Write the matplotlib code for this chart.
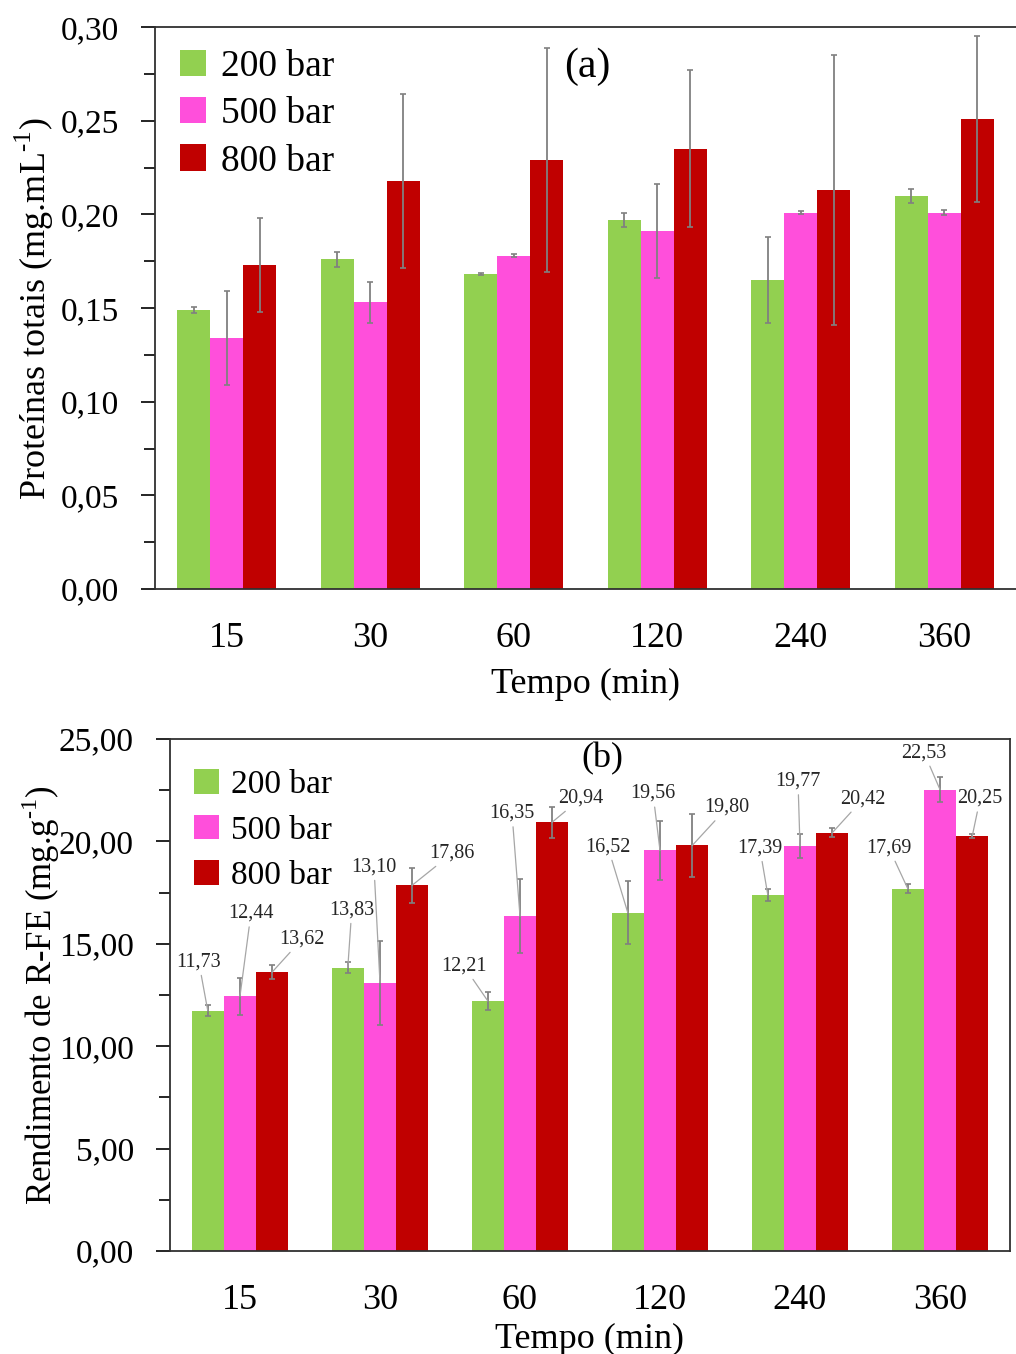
import numpy as np
import matplotlib
matplotlib.use('Agg')
import matplotlib.pyplot as plt

plt.rcParams['font.family'] = ['Liberation Serif', 'DejaVu Serif']
plt.rcParams['mathtext.fontset'] = 'custom'
plt.rcParams['mathtext.rm'] = 'Liberation Serif'

# categories
tempos = ['15', '30', '60', '120', '240', '360']
series = ['200 bar', '500 bar', '800 bar']
cores = ['#92D050', '#FF4FDB', '#C00000']

# (a) proteinas totais (mg/mL)
prot_200 = [0.149, 0.176, 0.168, 0.197, 0.165, 0.210]
prot_500 = [0.134, 0.153, 0.178, 0.191, 0.201, 0.201]
prot_800 = [0.173, 0.218, 0.229, 0.235, 0.213, 0.251]
prot_err_200 = [0.0015, 0.004, 0.0005, 0.004, 0.023, 0.0037]
prot_err_500 = [0.025, 0.011, 0.001, 0.025, 0.001, 0.0015]
prot_err_800 = [0.025, 0.0465, 0.060, 0.042, 0.072, 0.0443]

# (b) rendimento de R-FE (mg/g)
rend_200 = [11.73, 13.83, 12.21, 16.52, 17.39, 17.69]
rend_500 = [12.44, 13.10, 16.35, 19.56, 19.77, 22.53]
rend_800 = [13.62, 17.86, 20.94, 19.80, 20.42, 20.25]
rend_err_200 = [0.28, 0.27, 0.42, 1.55, 0.30, 0.22]
rend_err_500 = [0.90, 2.05, 1.80, 1.45, 0.60, 0.60]
rend_err_800 = [0.34, 0.85, 0.75, 1.55, 0.22, 0.10]

# label offsets (pixels) for the value labels in (b)
lbl_off = [
    [(-9, 49), (4, 58), (-24, 35), (-20, 66), (-8, 47), (-19, 41)],
    [(11, 83), (-6, 116), (-8, 103), (-7, 57), (-2, 65), (-16, 37)],
    [(30, 33), (40, 32), (29, 24), (35, 38), (31, 34), (8, 38)],
]

fig = plt.figure(figsize=(10.16, 13.54), dpi=100)
ax1 = fig.add_axes([0.1526, 0.565, 0.8474, 0.415])
ax2 = fig.add_axes([0.1673, 0.0761, 0.8268, 0.3781])

x = np.arange(len(tempos))
w = 0.23
offs = [-w, 0, w]


def fmt(v, p=None):
    return ('%.2f' % v).replace('.', ',')


def draw_bars(ax, vals, errs):
    for i in range(3):
        ax.bar(x + offs[i], vals[i], w, color=cores[i], label=series[i],
               yerr=errs[i], error_kw=dict(ecolor='#808080', elinewidth=1.3,
                                           capsize=2.2, capthick=1.2))
    ax.set_xlim(-0.5, len(tempos) - 0.5)
    ax.set_xticks(x)
    ax.set_xticklabels(tempos)
    ax.tick_params(axis='x', length=0, pad=24, labelsize=26)
    ax.tick_params(axis='y', which='major', length=10, width=1.2, pad=16,
                   labelsize=24, direction='out')
    ax.tick_params(axis='y', which='minor', length=8, width=1.2,
                   direction='out')
    ax.yaxis.set_major_formatter(plt.FuncFormatter(fmt))
    for s in ax.spines.values():
        s.set_color('#303030')
        s.set_linewidth(1.3)


# panel (a)
draw_bars(ax1, [prot_200, prot_500, prot_800],
          [prot_err_200, prot_err_500, prot_err_800])
ax1.set_ylim(0, 0.30)
ax1.set_yticks(np.arange(0, 0.301, 0.05))
ax1.set_yticks(np.arange(0.025, 0.3, 0.05), minor=True)
ax1.spines['right'].set_visible(False)
ax1.set_ylabel('Proteínas totais (mg.mL$^{\\mathregular{\u20101}}$)', fontsize=26, labelpad=3)
ax1.set_xlabel('Tempo (min)', fontsize=26, labelpad=9)
ax1.text(0.502, 0.929, '(a)', transform=ax1.transAxes, ha='center',
         va='center', fontsize=30)
ax1.legend(loc='upper left', bbox_to_anchor=(0.003, 1.0), frameon=False,
           fontsize=27, handlelength=0.7, handleheight=0.7,
           handletextpad=0.4, labelspacing=0.34, borderaxespad=0.2)

# panel (b)
vals_b = [rend_200, rend_500, rend_800]
draw_bars(ax2, vals_b, [rend_err_200, rend_err_500, rend_err_800])
ax2.set_ylim(0, 25)
ax2.set_yticks(np.arange(0, 25.1, 5))
ax2.set_yticks(np.arange(2.5, 25, 5), minor=True)
ax2.set_ylabel('Rendimento de R-FE (mg.g$^{\\mathregular{\u20101}}$)', fontsize=25, labelpad=-2)
ax2.set_xlabel('Tempo (min)', fontsize=26, labelpad=4)
ax2.text(0.515, 0.961, '(b)', transform=ax2.transAxes, ha='center',
         va='center', fontsize=26)
ax2.legend(loc='upper left', bbox_to_anchor=(0.005, 0.98), frameon=False,
           fontsize=24, handlelength=0.75, handleheight=0.75,
           handletextpad=0.35, labelspacing=0.44, borderaxespad=0.2)

for i in range(3):
    for j, v in enumerate(vals_b[i]):
        ax2.annotate(fmt(v), xy=(x[j] + offs[i], v),
                     xytext=lbl_off[i][j], textcoords='offset pixels',
                     ha='center', va='center', fontsize=14.5, color='#262626',
                     arrowprops=dict(arrowstyle='-', color='#A6A6A6', lw=0.9,
                                     shrinkA=1, shrinkB=0))

fig.savefig('out.png', dpi=100)
